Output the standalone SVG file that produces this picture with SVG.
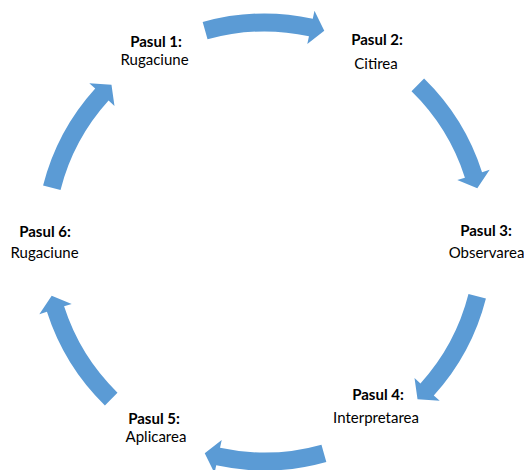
<svg xmlns="http://www.w3.org/2000/svg" xmlns:xlink="http://www.w3.org/1999/xlink" width="524" height="470" viewBox="0 0 524 470">
<style>
.lbl{font-family:Lato,"Open Sans","Liberation Sans",sans-serif;font-size:15px;fill:#000;text-anchor:middle}
.b{font-weight:bold}
.arr{fill:#5B9BD5}
</style>
<defs>
<path id="arrow" class="arr" d="M202.67,22.02 A228.5,228.5 0 0 1 312.78,18.66 L314.47,10.84 L324.27,30.80 L307.29,44.08 L308.98,36.26 A210.5,210.5 0 0 0 207.54,39.35 Z"/>
</defs>
<rect width="524" height="470" fill="#fff"/>
<g id="connectors">
<use xlink:href="#arrow" href="#arrow"/>
<use xlink:href="#arrow" href="#arrow" transform="rotate(60 264.5 242)"/>
<use xlink:href="#arrow" href="#arrow" transform="rotate(120 264.5 242)"/>
<use xlink:href="#arrow" href="#arrow" transform="rotate(180 264.5 242)"/>
<use xlink:href="#arrow" href="#arrow" transform="rotate(240 264.5 242)"/>
<use xlink:href="#arrow" href="#arrow" transform="rotate(300 264.5 242)"/>
</g>
<g id="node1"><text class="lbl b" x="156" y="47">Pasul 1:</text><text class="lbl" x="154.5" y="65">Rugaciune</text></g>
<g id="node2"><text class="lbl b" x="377" y="45">Pasul 2:</text><text class="lbl" x="376" y="69">Citirea</text></g>
<g id="node3"><text class="lbl b" x="486" y="236">Pasul 3:</text><text class="lbl" x="486.5" y="258">Observarea</text></g>
<g id="node4"><text class="lbl b" x="378" y="400">Pasul 4:</text><text class="lbl" x="376" y="423">Interpretarea</text></g>
<g id="node5"><text class="lbl b" x="154" y="424">Pasul 5:</text><text class="lbl" x="156" y="442">Aplicarea</text></g>
<g id="node6"><text class="lbl b" x="45" y="237">Pasul 6:</text><text class="lbl" x="44.5" y="258">Rugaciune</text></g>
</svg>
